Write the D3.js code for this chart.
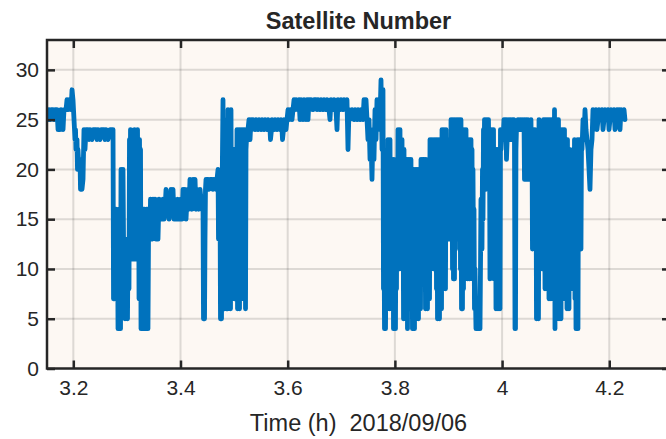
<!DOCTYPE html>
<html>
<head>
<meta charset="utf-8">
<script src="https://cdn.jsdelivr.net/npm/d3@7"></script>
<style>
  body { margin: 0; background: #ffffff; }
  svg { display: block; }
  text { font-family: "Liberation Sans", Arial, Helvetica, sans-serif; fill: #262626; }
</style>
</head>
<body>
<svg id="chart" width="666" height="439"></svg>
<script>
// Number of tracked satellites, sampled over the session: [time (h), satellite count]
const satSamples = [
  // start of session, high count
  [3.1528,25],[3.1547,26],[3.1565,25],[3.1584,26],[3.1621,26],[3.1640,25],[3.1659,26],[3.1696,26],[3.1715,24],[3.1752,24],
  [3.1770,26],[3.1808,24],[3.1826,26],[3.1864,26],[3.1882,27],[3.1901,26],[3.1920,27],[3.1938,27],[3.1957,26],[3.1976,28],
  [3.1994,27],[3.2013,25],[3.2032,23],[3.2041,24],[3.2050,22],[3.2069,23],[3.2078,20],[3.2087,22],[3.2106,20],[3.2125,21],
  [3.2134,18],[3.2143,20],[3.2162,18],[3.2181,19],[3.2199,24],[3.2218,22],[3.2237,24],[3.2274,24],[3.2293,23],[3.2312,24],
  [3.2349,23],[3.2368,24],[3.2424,24],[3.2442,23],[3.2461,24],[3.2498,23],[3.2517,24],[3.2573,24],[3.2591,23],[3.2610,24],
  [3.2647,23],[3.2685,24],[3.2722,24],[3.2741,24],
  // first obstructed stretch
  [3.2750,7],[3.2759,16],[3.2769,7],[3.2778,15],[3.2787,8],[3.2797,16],[3.2815,7],[3.2825,14],[3.2834,4],[3.2853,16],
  [3.2862,5],[3.2871,13],[3.2881,4],[3.2890,20],[3.2899,10],[3.2909,16],[3.2918,6],[3.2927,20],[3.2937,13],[3.2946,6],
  [3.2955,13],[3.2964,5],[3.2983,12],[3.2992,6],[3.3002,13],[3.3011,5],[3.3020,12],[3.3039,8],[3.3048,23],[3.3058,12],
  [3.3067,24],[3.3076,14],[3.3086,23],[3.3095,11],[3.3104,22],[3.3114,12],[3.3123,22],[3.3132,11],[3.3142,24],[3.3151,14],
  [3.3160,23],[3.3170,11],[3.3179,21],[3.3188,16],[3.3198,24],[3.3207,13],[3.3216,23],[3.3226,7],[3.3235,23],[3.3244,13],
  [3.3254,22],[3.3263,4],[3.3272,9],[3.3282,4],[3.3291,15],[3.3300,4],[3.3310,16],[3.3319,5],[3.3328,16],[3.3338,4],
  [3.3347,14],[3.3356,4],[3.3366,16],[3.3375,5],[3.3384,16],[3.3393,4],[3.3403,13],[3.3412,16],[3.3431,13],
  // partial recovery
  [3.3440,17],[3.3449,13],[3.3468,16],[3.3477,13],[3.3487,17],[3.3505,14],[3.3524,17],[3.3543,13],[3.3561,16],[3.3580,13],
  [3.3599,17],[3.3618,15],[3.3636,16],[3.3655,15],[3.3674,17],[3.3692,15],[3.3711,16],[3.3730,18],[3.3748,16],[3.3767,17],
  [3.3786,15],[3.3804,16],[3.3823,18],[3.3842,16],[3.3860,18],[3.3879,15],[3.3898,17],[3.3916,15],[3.3935,16],[3.3954,17],
  [3.3972,15],[3.3991,16],[3.4010,17],[3.4028,15],[3.4047,18],[3.4066,16],[3.4084,18],[3.4103,15],[3.4121,17],[3.4140,18],
  [3.4159,16],[3.4177,19],[3.4196,17],[3.4215,16],[3.4233,19],[3.4252,17],[3.4271,19],[3.4289,16],[3.4308,18],[3.4327,17],
  [3.4345,16],[3.4364,18],[3.4383,17],[3.4401,16],
  [3.4420,16],[3.4429,5],[3.4438,16],[3.4448,5],[3.4457,13],[3.4466,18],[3.4476,19],[3.4494,18],[3.4513,19],[3.4532,18],
  [3.4550,19],[3.4588,19],[3.4606,18],[3.4625,19],[3.4662,18],[3.4681,19],[3.4700,20],[3.4709,13],[3.4718,19],[3.4737,18],
  [3.4746,5],[3.4756,10],[3.4765,5],[3.4774,17],[3.4793,27],[3.4802,15],[3.4812,25],[3.4821,6],[3.4830,22],[3.4840,10],
  [3.4849,20],[3.4858,6],[3.4868,13],[3.4877,6],[3.4886,26],[3.4896,12],[3.4905,25],[3.4914,7],[3.4924,24],[3.4933,6],
  [3.4942,26],[3.4952,11],[3.4961,22],[3.4970,7],[3.4980,21],[3.4989,8],[3.4998,22],[3.5008,7],[3.5017,20],[3.5026,7],
  [3.5036,22],[3.5045,10],[3.5054,24],[3.5064,6],[3.5073,23],[3.5082,8],[3.5092,24],[3.5101,6],[3.5110,22],[3.5119,9],
  [3.5129,24],[3.5138,7],[3.5147,23],[3.5157,8],[3.5166,24],[3.5175,8],[3.5185,23],[3.5194,7],[3.5203,24],[3.5213,6],
  [3.5222,22],[3.5231,23],[3.5241,24],
  // open sky plateau
  [3.5259,24],[3.5278,25],[3.5297,23],[3.5315,25],[3.5334,24],[3.5353,25],[3.5390,24],[3.5409,25],[3.5446,24],[3.5465,25],
  [3.5502,24],[3.5521,25],[3.5558,24],[3.5577,25],[3.5614,24],[3.5633,25],[3.5670,24],[3.5679,23],[3.5698,24],[3.5707,25],
  [3.5745,24],[3.5763,25],[3.5800,24],[3.5819,25],[3.5856,24],[3.5875,25],[3.5894,24],[3.5903,23],[3.5922,24],[3.5931,25],
  [3.5968,24],[3.5987,25],[3.6006,26],[3.6024,25],[3.6043,26],[3.6062,26],[3.6080,25],[3.6099,26],
  [3.6118,27],[3.6136,26],[3.6155,27],[3.6192,26],[3.6211,27],[3.6230,25],[3.6248,27],[3.6267,26],[3.6286,25],[3.6304,27],
  [3.6323,26],[3.6342,25],[3.6360,27],[3.6379,25],[3.6398,27],[3.6416,26],[3.6435,27],[3.6472,26],[3.6491,27],[3.6528,27],
  [3.6547,26],[3.6566,27],[3.6603,26],[3.6621,27],[3.6659,26],[3.6677,27],[3.6715,26],[3.6733,27],[3.6771,26],[3.6789,25],
  [3.6808,27],[3.6845,26],[3.6864,27],[3.6901,26],[3.6920,24],[3.6938,27],[3.6976,26],[3.6994,27],[3.7032,26],[3.7050,27],
  [3.7088,26],[3.7106,27],[3.7125,22],[3.7144,26],[3.7162,25],[3.7200,26],[3.7237,25],[3.7256,26],[3.7293,25],[3.7312,26],
  [3.7349,25],[3.7368,26],[3.7405,25],[3.7424,27],[3.7442,26],[3.7461,27],[3.7480,25],[3.7498,23],[3.7517,25],[3.7536,21],
  [3.7554,23],[3.7573,19],[3.7592,24],[3.7610,21],[3.7629,26],[3.7648,23],[3.7666,27],[3.7685,24],[3.7704,26],[3.7722,25],
  [3.7741,29],[3.7760,22],[3.7778,28],
  // second obstructed stretch
  [3.7787,8],[3.7797,15],[3.7806,4],[3.7815,10],[3.7825,4],[3.7834,12],[3.7843,7],[3.7853,19],[3.7862,6],[3.7871,23],
  [3.7881,9],[3.7890,22],[3.7899,6],[3.7909,23],[3.7918,8],[3.7927,20],[3.7937,6],[3.7946,21],[3.7955,10],[3.7965,19],
  [3.7974,4],[3.7983,21],[3.7993,7],[3.8002,20],[3.8011,4],[3.8021,18],[3.8030,8],[3.8039,21],[3.8049,10],[3.8058,24],
  [3.8067,12],[3.8077,23],[3.8086,10],[3.8095,24],[3.8105,14],[3.8114,22],[3.8123,10],[3.8133,23],[3.8142,12],[3.8151,22],
  [3.8161,5],[3.8170,22],[3.8179,8],[3.8189,21],[3.8198,5],[3.8207,20],[3.8217,9],[3.8226,21],[3.8235,4],[3.8245,19],
  [3.8254,8],[3.8263,21],[3.8273,6],[3.8282,20],[3.8291,10],[3.8300,21],[3.8310,6],[3.8319,18],[3.8328,4],[3.8338,20],
  [3.8347,8],[3.8356,20],[3.8366,4],[3.8375,19],[3.8384,7],[3.8394,20],[3.8403,5],[3.8412,18],[3.8422,9],[3.8431,20],
  [3.8440,5],[3.8450,19],[3.8459,10],[3.8468,20],[3.8478,6],[3.8487,21],[3.8496,11],[3.8506,20],[3.8515,14],[3.8524,21],
  [3.8534,12],[3.8543,21],[3.8552,15],[3.8562,19],[3.8571,6],[3.8580,21],[3.8590,9],[3.8599,19],[3.8608,6],[3.8618,18],
  [3.8627,10],[3.8636,19],[3.8646,7],[3.8655,23],[3.8664,12],[3.8674,22],[3.8683,10],[3.8692,23],[3.8702,15],[3.8711,20],
  [3.8720,10],[3.8730,23],[3.8739,13],[3.8748,21],[3.8758,10],[3.8767,23],[3.8776,8],[3.8786,23],[3.8795,5],[3.8804,20],
  [3.8814,9],[3.8823,23],[3.8832,5],[3.8842,21],[3.8851,11],[3.8860,23],[3.8870,6],
  [3.8879,24],[3.8888,10],[3.8898,23],[3.8907,8],[3.8916,24],[3.8926,12],[3.8935,22],[3.8944,8],[3.8954,24],[3.8963,13],
  [3.8972,23],[3.8982,14],[3.8991,22],[3.9000,13],[3.9010,23],[3.9019,16],[3.9028,22],[3.9037,13],[3.9047,25],[3.9056,15],
  [3.9065,24],[3.9075,10],[3.9084,25],[3.9093,9],[3.9103,22],[3.9112,9],[3.9121,25],[3.9131,12],[3.9140,24],[3.9149,16],
  [3.9159,25],[3.9168,14],[3.9177,23],[3.9187,13],[3.9196,25],[3.9205,13],[3.9215,24],[3.9224,10],[3.9233,25],[3.9243,6],
  [3.9252,22],[3.9261,6],[3.9271,24],[3.9280,8],[3.9289,24],[3.9299,10],[3.9308,23],[3.9317,9],[3.9327,24],[3.9336,12],
  [3.9345,23],[3.9355,9],[3.9364,22],[3.9373,10],[3.9383,23],[3.9392,9],[3.9401,21],[3.9411,12],[3.9420,23],[3.9429,10],
  [3.9439,22],[3.9448,9],[3.9457,20],[3.9467,11],[3.9476,16],[3.9485,6],[3.9495,10],[3.9513,4],[3.9532,7],[3.9551,4],
  [3.9569,6],[3.9588,4],[3.9597,10],[3.9606,17],[3.9625,12],[3.9634,20],[3.9644,15],[3.9653,24],[3.9662,18],[3.9672,25],
  [3.9681,19],[3.9690,24],[3.9700,18],[3.9709,25],[3.9718,20],[3.9728,24],[3.9737,19],[3.9746,25],[3.9756,18],[3.9765,24],
  [3.9774,9],[3.9784,23],[3.9793,12],[3.9802,24],[3.9812,10],[3.9821,22],[3.9830,12],[3.9840,24],[3.9849,9],[3.9858,22],
  [3.9868,10],[3.9877,21],[3.9886,6],[3.9896,22],[3.9905,10],[3.9914,21],[3.9924,6],[3.9933,22],[3.9942,9],[3.9952,20],
  [3.9961,6],[3.9970,24],[3.9980,22],[3.9998,24],[4.0017,23],[4.0036,25],[4.0054,24],[4.0073,25],[4.0082,21],[4.0101,24],
  [4.0110,25],[4.0129,24],[4.0148,25],[4.0166,23],[4.0175,24],[4.0185,25],[4.0203,24],[4.0222,25],[4.0231,23],[4.0241,4],
  [4.0250,4],[4.0259,22],[4.0268,24],[4.0278,24],[4.0297,25],[4.0315,24],[4.0334,25],[4.0353,24],[4.0371,25],[4.0390,24],
  [4.0409,25],[4.0418,19],[4.0427,24],[4.0446,25],[4.0455,19],[4.0465,24],[4.0483,25],[4.0493,19],[4.0502,23],[4.0521,19],
  [4.0539,25],[4.0549,19],[4.0558,24],[4.0567,12],[4.0577,20],[4.0586,19],[4.0595,24],[4.0605,19],[4.0614,24],[4.0623,12],
  [4.0633,22],[4.0642,5],[4.0651,23],[4.0661,8],[4.0670,24],[4.0679,5],[4.0689,25],
  [4.0707,10],[4.0717,24],[4.0726,12],[4.0735,23],[4.0745,10],[4.0754,24],[4.0763,14],[4.0773,25],[4.0782,10],[4.0791,24],
  [4.0801,8],[4.0810,25],[4.0819,12],[4.0829,24],[4.0838,8],[4.0847,25],[4.0857,10],[4.0866,24],[4.0875,7],[4.0884,25],
  [4.0894,11],[4.0903,23],[4.0912,7],[4.0922,25],[4.0931,9],[4.0940,24],[4.0950,7],[4.0959,25],[4.0968,12],[4.0978,26],
  [4.0987,4],[4.0996,24],[4.1006,8],[4.1015,25],[4.1024,5],[4.1034,24],[4.1043,9],[4.1052,25],[4.1062,5],[4.1071,23],
  [4.1080,10],[4.1090,24],[4.1099,5],[4.1108,22],[4.1118,9],[4.1127,24],[4.1136,7],[4.1146,23],[4.1155,11],[4.1164,24],
  [4.1174,7],[4.1183,23],[4.1192,10],[4.1202,22],[4.1211,6],[4.1220,23],[4.1230,9],[4.1239,21],[4.1248,6],[4.1258,22],
  [4.1267,10],[4.1276,21],[4.1286,8],[4.1295,20],[4.1304,9],[4.1314,21],[4.1323,8],[4.1332,22],[4.1342,11],[4.1351,23],
  [4.1360,7],[4.1370,22],[4.1379,4],[4.1388,21],[4.1398,6],[4.1407,23],[4.1416,4],[4.1426,22],[4.1435,12],[4.1444,23],
  [4.1454,14],[4.1463,22],[4.1472,12],[4.1482,23],
  // end of session, sky clears
  [4.1491,22],[4.1510,25],[4.1528,23],[4.1547,26],[4.1566,24],[4.1584,23],[4.1603,22],[4.1622,20],[4.1640,18],[4.1659,22],
  [4.1678,23],[4.1696,26],[4.1715,24],[4.1734,25],[4.1752,26],[4.1771,24],[4.1790,25],[4.1808,26],[4.1827,25],[4.1864,26],
  [4.1883,24],[4.1920,26],[4.1939,25],[4.1976,26],[4.1995,24],[4.2032,26],[4.2051,25],[4.2088,26],[4.2107,24],[4.2144,26],
  [4.2163,25],[4.2181,26],[4.2200,24],[4.2219,26],[4.2237,25],[4.2275,26],[4.2293,25]
];

const xTickValues = [3.2, 3.4, 3.6, 3.8, 4.0, 4.2];
const xTickLabels = ["3.2", "3.4", "3.6", "3.8", "4", "4.2"];
const yTickValues = [0, 5, 10, 15, 20, 25, 30];
const yTickLabels = ["0", "5", "10", "15", "20", "25", "30"];
const chartTitle = "Satellite Number";
const xAxisTitle = "Time (h)  2018/09/06";

// Layout
const plot = { left: 47, top: 40, right: 670, bottom: 368.5 };
const axisColor = "#262626";
const lineColor = "#0072BD";
const tickFont = "21px";
const labelFont = "23.5px";

const svg = d3.select("#chart");

const x = d3.scaleLinear().domain([3.1509, 4.3133]).range([plot.left, plot.right]);
const y = d3.scaleLinear().domain([0, 33]).range([plot.bottom, plot.top]);

// Plot background
svg.append("rect")
  .attr("x", plot.left).attr("y", plot.top)
  .attr("width", plot.right - plot.left).attr("height", plot.bottom - plot.top)
  .attr("fill", "#FDF8F3");

// Grid
const grid = svg.append("g").attr("stroke", "#262626").attr("stroke-opacity", 0.15).attr("stroke-width", 2);
grid.selectAll("line.gx").data(xTickValues).join("line")
  .attr("class", "gx")
  .attr("x1", d => x(d)).attr("x2", d => x(d))
  .attr("y1", plot.top).attr("y2", plot.bottom);
grid.selectAll("line.gy").data(yTickValues.filter(v => v > 0)).join("line")
  .attr("class", "gy")
  .attr("x1", plot.left).attr("x2", plot.right)
  .attr("y1", d => y(d)).attr("y2", d => y(d));

// Data line, clipped to the axes area
svg.append("clipPath").attr("id", "plotClip")
  .append("rect")
  .attr("x", plot.left).attr("y", plot.top)
  .attr("width", plot.right - plot.left).attr("height", plot.bottom - plot.top);

const line = d3.line().x(d => x(d[0])).y(d => y(d[1]));
svg.append("path")
  .datum(satSamples)
  .attr("clip-path", "url(#plotClip)")
  .attr("fill", "none")
  .attr("stroke", lineColor)
  .attr("stroke-width", 4.8)
  .attr("stroke-linejoin", "round")
  .attr("stroke-linecap", "round")
  .attr("d", line);

// Axes with inward ticks on all four sides
const tickLen = 8;
const fmtX = (d, i) => xTickLabels[i];
const fmtY = (d, i) => yTickLabels[i];

function styleAxis(g) {
  g.selectAll(".domain").remove();
  g.selectAll(".tick line").attr("stroke", axisColor).attr("stroke-width", 2.5);
  g.selectAll(".tick text").attr("fill", axisColor).style("font-size", tickFont)
    .style("font-family", '"Liberation Sans", Arial, sans-serif');
}

svg.append("g")
  .attr("transform", `translate(0,${plot.bottom})`)
  .call(d3.axisBottom(x).tickValues(xTickValues).tickFormat(fmtX).tickSizeInner(-tickLen).tickSizeOuter(0).tickPadding(12))
  .call(styleAxis);

svg.append("g")
  .attr("transform", `translate(0,${plot.top})`)
  .call(d3.axisTop(x).tickValues(xTickValues).tickFormat("").tickSizeInner(-tickLen).tickSizeOuter(0))
  .call(styleAxis);

svg.append("g")
  .attr("transform", `translate(${plot.left},0)`)
  .call(d3.axisLeft(y).tickValues(yTickValues).tickFormat(fmtY).tickSizeInner(-tickLen).tickSizeOuter(0).tickPadding(8))
  .call(styleAxis);

svg.append("g")
  .attr("transform", `translate(${plot.right},0)`)
  .call(d3.axisRight(y).tickValues(yTickValues).tickFormat("").tickSizeInner(-tickLen).tickSizeOuter(0))
  .call(styleAxis);

// Box outline
svg.append("rect")
  .attr("x", plot.left).attr("y", plot.top)
  .attr("width", plot.right - plot.left).attr("height", plot.bottom - plot.top)
  .attr("fill", "none").attr("stroke", axisColor).attr("stroke-width", 2.5);

// Titles
svg.append("text")
  .attr("x", (plot.left + plot.right) / 2).attr("y", 29)
  .attr("text-anchor", "middle")
  .style("font-size", labelFont).style("font-weight", "bold")
  .attr("fill", "#000")
  .text(chartTitle);

svg.append("text")
  .attr("x", (plot.left + plot.right) / 2).attr("y", 431)
  .attr("text-anchor", "middle")
  .style("font-size", labelFont)
  .style("white-space", "pre")
  .text(xAxisTitle);
</script>
</body>
</html>
